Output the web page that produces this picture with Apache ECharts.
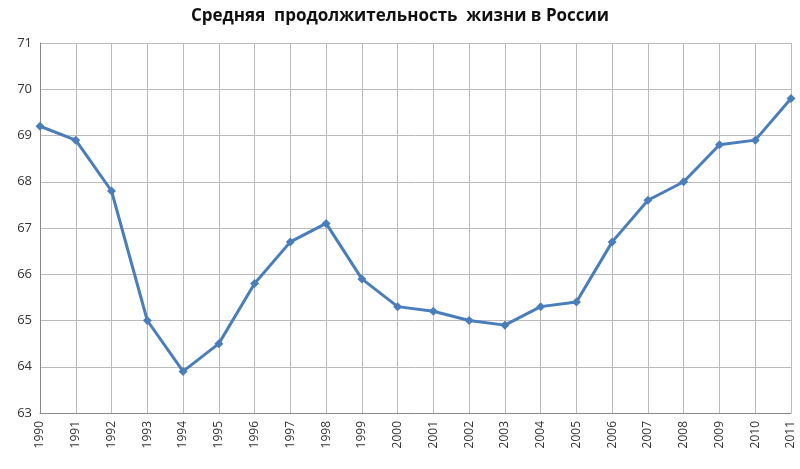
<!DOCTYPE html><html><head><meta charset="utf-8"><script src="https://cdn.jsdelivr.net/npm/echarts@6/dist/echarts.min.js"></script></head><body style="margin:0"><div id="c" style="width:800px;height:469px"></div><script>
const years=['1990','1991','1992','1993','1994','1995','1996','1997','1998','1999','2000','2001','2002','2003','2004','2005','2006','2007','2008','2009','2010','2011'];
const life=[69.2,68.9,67.8,65.0,63.9,64.5,65.8,66.7,67.1,65.9,65.3,65.2,65.0,64.9,65.3,65.4,66.7,67.6,68.0,68.8,68.9,69.8];
const c=echarts.init(document.getElementById('c'));
c.setOption({animation:false,
title:{text:'Средняя  продолжительность  жизни в России',left:'center',top:3,textStyle:{fontFamily:'Open Sans',fontSize:17,fontWeight:'bold',color:'#111'}},
grid:{left:40,right:9,top:43,bottom:56},
xAxis:{type:'category',data:years,boundaryGap:false,axisLine:{lineStyle:{color:'#888'}},axisTick:{show:false},
axisLabel:{rotate:90,color:'#333',fontSize:12,fontFamily:'Open Sans',interval:0},splitLine:{show:true,lineStyle:{color:'#bbb'}}},
yAxis:{type:'value',min:63,max:71,interval:1,axisLine:{show:true,lineStyle:{color:'#888'}},axisLabel:{color:'#333',fontSize:13,fontFamily:'Open Sans'},splitLine:{lineStyle:{color:'#bbb'}}},
series:[{type:'line',data:life,symbol:'diamond',symbolSize:9,lineStyle:{color:'#4a7ebb',width:3},itemStyle:{color:'#4a7ebb'}}]});
</script></body></html>
